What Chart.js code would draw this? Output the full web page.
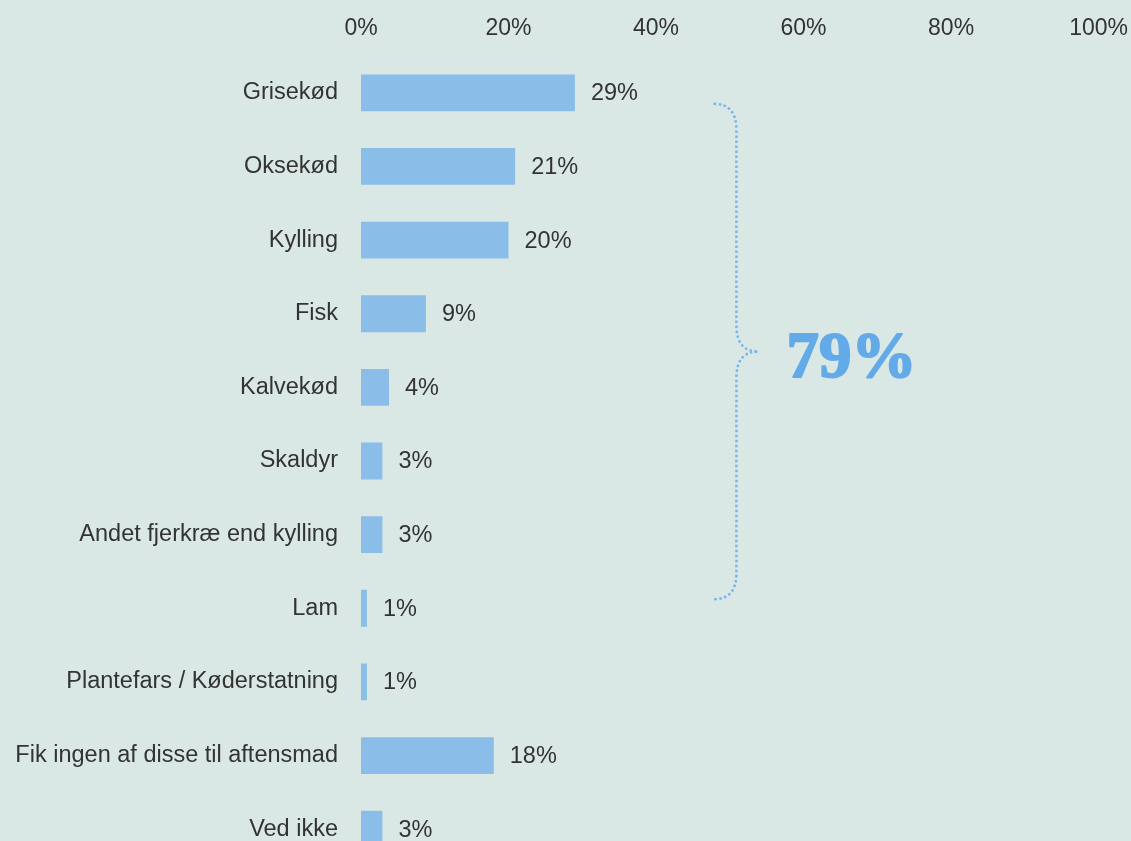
<!DOCTYPE html>
<html>
<head>
<meta charset="utf-8">
<script src="https://cdn.jsdelivr.net/npm/chart.js@4/dist/chart.umd.min.js"></script>
<style>
  html, body { margin: 0; padding: 0; background: #d9e8e5; overflow: hidden; }
  #chart { display: block; width: 1134px; height: 881px; }
</style>
</head>
<body>
<canvas id="chart" width="1134" height="881"></canvas>
<script>
// --- data ---
const categories = [
  'Grisekød', 'Oksekød', 'Kylling', 'Fisk', 'Kalvekød', 'Skaldyr',
  'Andet fjerkræ end kylling', 'Lam', 'Plantefars / Køderstatning',
  'Fik ingen af disse til aftensmad', 'Ved ikke'
];
const shares = [29.0, 20.9, 20.0, 8.8, 3.8, 2.9, 2.9, 0.8, 0.8, 18.0, 2.9];
const shareLabels = ['29%', '21%', '20%', '9%', '4%', '3%', '3%', '1%', '1%', '18%', '3%'];
const xTicks = [0, 20, 40, 60, 80, 100];
const braceFrom = 0;   // Grisekød
const braceTo = 7;     // Lam
const braceTotal = '79%';

const textColor = '#333333';
const barColor = '#8bbde9';
const accent = '#63aae9';
const sans = '"Liberation Sans", Arial, sans-serif';

// labels to the right of each bar
const valueLabels = {
  id: 'valueLabels',
  afterDatasetsDraw(chart) {
    const ctx = chart.ctx;
    const meta = chart.getDatasetMeta(0);
    ctx.save();
    ctx.font = '23.5px ' + sans;
    ctx.fillStyle = textColor;
    ctx.textBaseline = 'middle';
    ctx.textAlign = 'left';
    meta.data.forEach((bar, i) => {
      ctx.fillText(shareLabels[i], bar.x + 16, bar.y + 1);
    });
    ctx.restore();
  }
};

// dotted curly brace + total
const brace = {
  id: 'brace',
  afterDraw(chart) {
    const ctx = chart.ctx;
    const xs = chart.scales.x, ys = chart.scales.y;
    const xl = xs.getPixelForValue(50.9);
    const xEnd = xs.getPixelForValue(47.8);
    const xTip = xs.getPixelForValue(53.9);
    const top = ys.getPixelForValue(braceFrom) + 11;
    const bot = ys.getPixelForValue(braceTo) - 9;
    const mid = (ys.getPixelForValue(3) + ys.getPixelForValue(4)) / 2 + 1;
    const r = 26;
    ctx.save();
    ctx.strokeStyle = '#7ab4e8';
    ctx.lineWidth = 2.5;
    ctx.setLineDash([2.5, 2.5]);
    ctx.beginPath();
    ctx.moveTo(xEnd, top);
    ctx.quadraticCurveTo(xl, top, xl, top + r);
    ctx.lineTo(xl, mid - r);
    ctx.quadraticCurveTo(xl, mid, xTip, mid);
    ctx.quadraticCurveTo(xl, mid, xl, mid + r);
    ctx.lineTo(xl, bot - r);
    ctx.quadraticCurveTo(xl, bot, xEnd, bot);
    ctx.stroke();
    ctx.restore();

    ctx.save();
    ctx.font = 'bold 65px "Liberation Serif", "Times New Roman", serif';
    ctx.fillStyle = accent;
    ctx.strokeStyle = accent;
    ctx.lineWidth = 2;
    ctx.lineJoin = 'round';
    ctx.textAlign = 'left';
    ctx.textBaseline = 'alphabetic';
    ctx.fillText(braceTotal, xTip + 28, mid + 25);
    ctx.strokeText(braceTotal, xTip + 28, mid + 25);
    ctx.restore();
  }
};

new Chart(document.getElementById('chart'), {
  type: 'bar',
  data: {
    labels: categories,
    datasets: [{
      data: shares,
      backgroundColor: barColor,
      borderWidth: 0,
      categoryPercentage: 1,
      barPercentage: 0.5
    }]
  },
  options: {
    indexAxis: 'y',
    responsive: false,
    animation: false,
    // canvas is taller than the window: the last bar is cut off, as in the original
    layout: { padding: { top: 0, left: 0, right: 30, bottom: 15 } },
    plugins: { legend: { display: false }, tooltip: { enabled: false } },
    scales: {
      x: {
        position: 'top',
        min: 0,
        max: 100,
        afterBuildTicks(axis) { axis.ticks = xTicks.map(v => ({ value: v })); },
        afterFit(axis) { axis.height = 56; },
        grid: { display: false },
        border: { display: false },
        ticks: {
          color: textColor,
          padding: 6,
          maxRotation: 0,
          font: { family: sans, size: 23 },
          callback: v => v + '%'
        }
      },
      y: {
        afterFit(axis) { axis.width = 361; },
        grid: { display: false, tickLength: 23 },
        border: { display: true, color: '#e0e3e0', width: 1 },
        ticks: {
          color: textColor,
          padding: 0,
          font: { family: sans, size: 23.5 }
        }
      }
    }
  },
  plugins: [valueLabels, brace]
});
</script>
</body>
</html>
